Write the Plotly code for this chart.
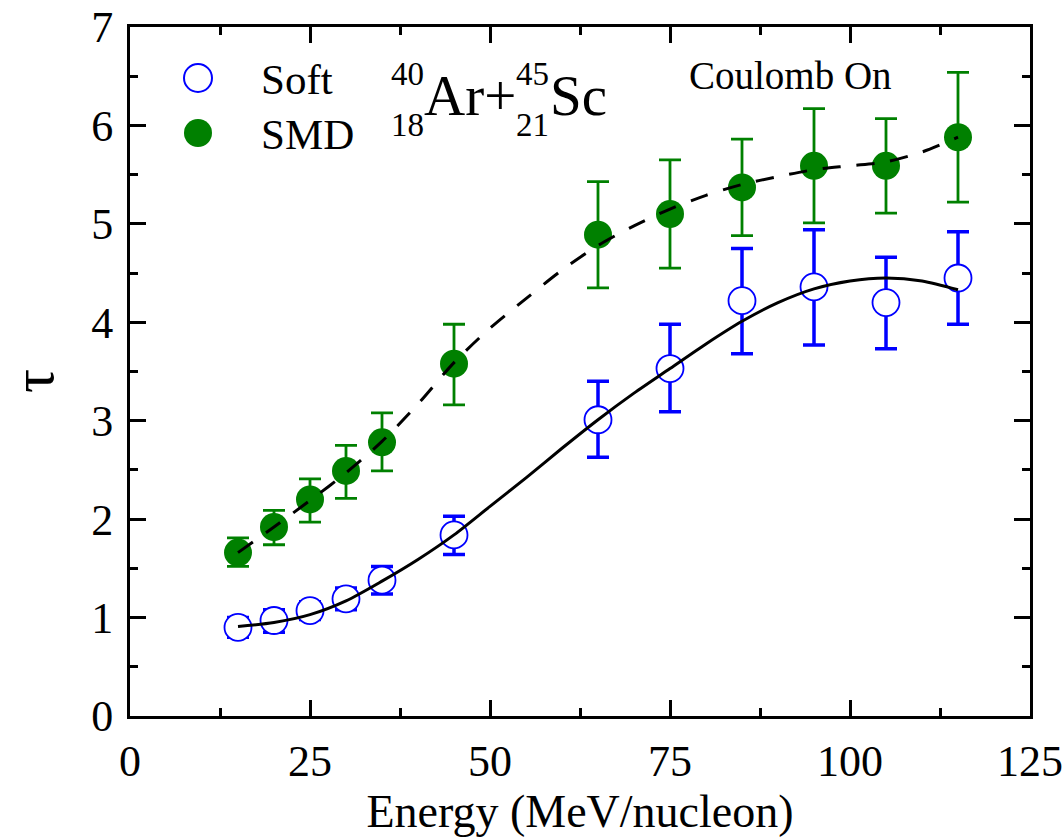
import plotly.graph_objects as go

# ---- data ----
energy = [15, 20, 25, 30, 35, 45, 65, 75, 85, 95, 105, 115]
soft_tau = [0.90, 0.97, 1.07, 1.19, 1.38, 1.84, 3.01, 3.53, 4.22, 4.36, 4.20, 4.45]
soft_hi = [1.00, 1.08, 1.16, 1.30, 1.52, 2.03, 3.40, 3.98, 4.75, 4.94, 4.66, 4.92]
soft_lo = [0.80, 0.85, 0.98, 1.08, 1.24, 1.64, 2.63, 3.09, 3.68, 3.77, 3.73, 3.98]
smd_tau = [1.66, 1.92, 2.20, 2.49, 2.78, 3.58, 4.89, 5.10, 5.37, 5.59, 5.59, 5.88]
smd_hi = [1.81, 2.09, 2.41, 2.75, 3.08, 3.98, 5.43, 5.65, 5.86, 6.17, 6.07, 6.54]
smd_lo = [1.52, 1.74, 1.97, 2.21, 2.49, 3.16, 4.35, 4.55, 4.88, 5.01, 5.11, 5.22]

fit_energy = [15, 20, 25, 30, 35, 40, 45, 50, 55, 60, 65, 70, 75, 80, 85, 90, 95, 100, 105, 110, 115]
soft_fit = [0.91, 0.95, 1.03, 1.17, 1.37, 1.59, 1.84, 2.13, 2.42, 2.72, 3.01, 3.28, 3.53, 3.78, 4.01, 4.20, 4.34, 4.42, 4.45, 4.42, 4.33]
smd_fit = [1.66, 1.92, 2.19, 2.47, 2.79, 3.17, 3.59, 3.94, 4.24, 4.53, 4.78, 4.98, 5.15, 5.29, 5.40, 5.48, 5.55, 5.59, 5.63, 5.73, 5.88]

x_ticks = [0, 25, 50, 75, 100, 125]
y_ticks = [0, 1, 2, 3, 4, 5, 6, 7]

BLUE = "#0000FF"
GREEN = "#008000"
FONT = "Liberation Serif"

fig = go.Figure()

fig.add_trace(go.Scatter(
    x=energy, y=soft_tau, mode="markers", name="Soft", showlegend=False,
    marker=dict(symbol="circle", size=27, color="white", line=dict(color=BLUE, width=1.8)),
    error_y=dict(type="data", symmetric=False,
                 array=[h - c for h, c in zip(soft_hi, soft_tau)],
                 arrayminus=[c - l for c, l in zip(soft_tau, soft_lo)],
                 color=BLUE, thickness=3.5, width=11),
))
fig.add_trace(go.Scatter(
    x=energy, y=smd_tau, mode="markers", name="SMD", showlegend=False,
    marker=dict(symbol="circle", size=28, color=GREEN, line=dict(width=0)),
    error_y=dict(type="data", symmetric=False,
                 array=[h - c for h, c in zip(smd_hi, smd_tau)],
                 arrayminus=[c - l for c, l in zip(smd_tau, smd_lo)],
                 color=GREEN, thickness=2.8, width=11),
))
fig.add_trace(go.Scatter(
    x=fit_energy, y=soft_fit, mode="lines", showlegend=False,
    line=dict(color="black", width=3, shape="spline", smoothing=0.8),
))
fig.add_trace(go.Scatter(
    x=fit_energy, y=smd_fit, mode="lines", showlegend=False,
    line=dict(color="black", width=3, dash="18px,16px", shape="spline", smoothing=0.8),
))

# plot area in pixels: x 130..1030, y 27..716
L, R, T, B = 130, 1030, 27, 716
def px(xp):
    return (xp - L) / (R - L)
def py(yp):
    return (B - yp) / (B - T)

# manual legend
r = 14
fig.add_shape(type="circle", xref="paper", yref="paper",
              x0=px(198 - r), x1=px(198 + r), y0=py(78 + r), y1=py(78 - r),
              line=dict(color=BLUE, width=2), fillcolor="white")
fig.add_shape(type="circle", xref="paper", yref="paper",
              x0=px(198 - r), x1=px(198 + r), y0=py(133 + r), y1=py(133 - r),
              line=dict(color=GREEN, width=0), fillcolor=GREEN)

annots = []
def ann(text, x, y, size, xanchor="center", yanchor="middle", angle=0):
    annots.append(dict(text=text, x=px(x), y=py(y), xref="paper", yref="paper",
                       xanchor=xanchor, yanchor=yanchor, showarrow=False,
                       textangle=angle, font=dict(family=FONT, size=size, color="black")))

ann("Soft", 259, 80, 43, xanchor="left")
ann("SMD", 259, 134, 43, xanchor="left")
ann("40", 407, 74, 33)
ann("18", 407, 125, 33)
ann("Ar+", 422, 96, 57, xanchor="left")
ann("45", 532, 74, 33)
ann("21", 532, 125, 33)
ann("Sc", 548, 96, 57, xanchor="left")
ann("Coulomb On", 790, 75, 39)
ann("τ", 33, 381, 60, angle=-90)

fig.update_layout(
    width=1064, height=837,
    margin=dict(l=L, r=1064 - R, t=T, b=837 - B),
    plot_bgcolor="white", paper_bgcolor="white",
    font=dict(family=FONT, color="black"),
    annotations=annots,
    showlegend=False,
)

axis_common = dict(
    showline=True, linecolor="black", linewidth=3, mirror="allticks",
    ticks="inside", ticklen=16, tickwidth=3, tickcolor="black",
    showgrid=False, zeroline=False, automargin=False,
    tickfont=dict(family=FONT, size=44, color="black"),
)

fig.update_xaxes(
    range=[0, 125], tickvals=x_ticks, ticktext=[str(v) for v in x_ticks],
    minor=dict(ticks="inside", ticklen=8, tickwidth=3, tickcolor="black", dtick=12.5, tick0=0, showgrid=False),
    title=dict(text="Energy (MeV/nucleon)", font=dict(family=FONT, size=46, color="black"), standoff=8),
    ticklabelstandoff=4,
    **axis_common,
)
fig.update_yaxes(
    range=[0, 7], tickvals=y_ticks, ticktext=[str(v) for v in y_ticks],
    minor=dict(ticks="inside", ticklen=8, tickwidth=3, tickcolor="black", dtick=0.5, tick0=0, showgrid=False),
    ticklabelstandoff=5,
    **axis_common,
)

fig.write_html("out.html")
